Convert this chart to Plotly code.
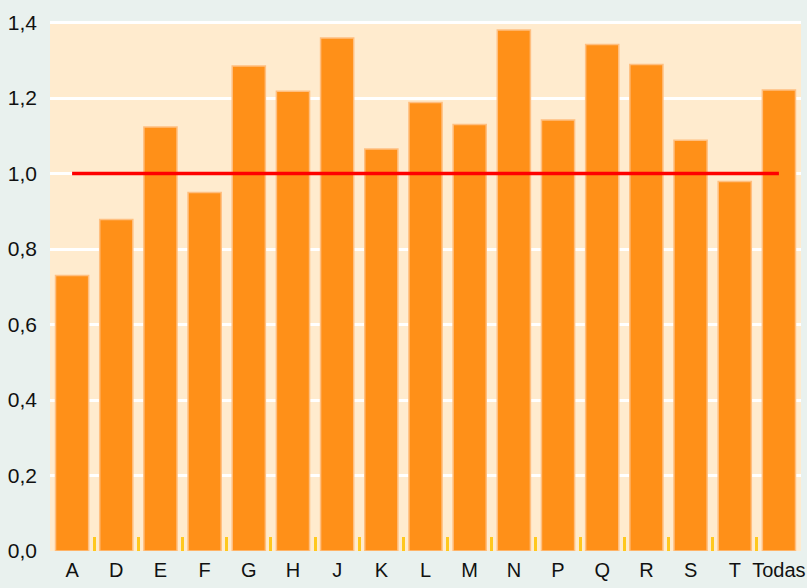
import plotly.graph_objects as go

categories = ["A", "D", "E", "F", "G", "H", "J", "K", "L", "M", "N", "P", "Q", "R", "S", "T", "Todas"]
values = [0.73, 0.878, 1.123, 0.95, 1.285, 1.218, 1.359, 1.065, 1.188, 1.13, 1.38, 1.142, 1.342, 1.289, 1.088, 0.979, 1.221]
ref_x = ["A", "Todas"]
ref_y = [1.0, 1.0]
y_ticks = [0, 0.2, 0.4, 0.6, 0.8, 1.0, 1.2, 1.4]

FONT = "Liberation Sans, Arial, sans-serif"
BG = "#E9F1EE"

fig = go.Figure()
fig.add_trace(go.Bar(
    x=categories, y=values,
    marker=dict(color="#FF9018", line=dict(color="#FFBF80", width=1.5)),
    showlegend=False, hoverinfo="x+y",
))
fig.add_trace(go.Scatter(
    x=ref_x, y=ref_y, mode="lines",
    line=dict(color="#FF0000", width=3.5),
    showlegend=False,
))

fig.update_layout(
    width=807, height=588,
    margin=dict(l=50, r=6, t=21, b=37),
    paper_bgcolor=BG,
    plot_bgcolor="#FFEBCE",
    bargap=0.25,
    separators=",.",
    font=dict(family=FONT, size=21, color="#111111"),
)
fig.update_xaxes(
    type="category",
    tickson="boundaries",
    ticks="inside", ticklen=14, tickwidth=3, tickcolor="#FFC81E",
    showgrid=False, showline=False, zeroline=False,
    tickangle=0, automargin=False,
    ticklabelstandoff=5,
    tickfont=dict(family=FONT, size=20),
)
fig.update_yaxes(
    range=[0, 1.404],
    tickvals=y_ticks, tickformat=".1f",
    showgrid=True, gridcolor="#FFFFFF", gridwidth=3,
    zeroline=False, showline=False, ticks="",
    automargin=False,
    ticklabelstandoff=12,
    tickfont=dict(family=FONT, size=21),
)

fig.write_html(
    "out.html",
    config={"displayModeBar": False},
    post_script="document.body.style.margin='0';document.body.style.background='%s';" % BG,
)
